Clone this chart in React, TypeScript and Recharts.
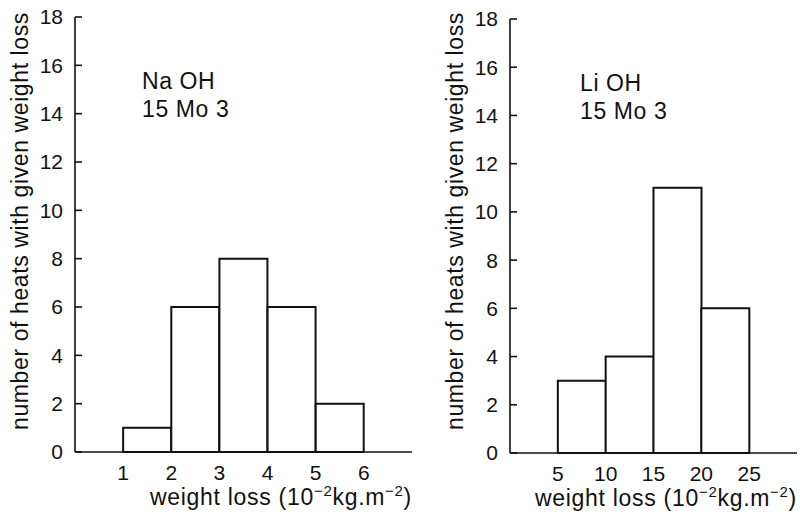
import { ComposedChart, Bar, XAxis, YAxis, Label } from 'recharts'

// left edge of every bin, count of heats in that bin
const naBinStart = [0, 1, 2, 3, 4, 5, 6]
const naCounts = [0, 1, 6, 8, 6, 2, 0]
const naTicks = [1, 2, 3, 4, 5, 6]

const liBinStart = [0, 5, 10, 15, 20, 25]
const liCounts = [0, 3, 4, 11, 6, 0]
const liTicks = [5, 10, 15, 20, 25]

const yTicks = [0, 2, 4, 6, 8, 10, 12, 14, 16, 18]
const yLabel = 'number of heats with given weight loss'

const FONT = "'Liberation Sans', Arial, Helvetica, sans-serif"
const INK = '#111'

interface PanelProps {
  left: number
  width: number
  binStart: number[]
  counts: number[]
  ticks: number[]
  title: string
  margin: { top: number; right: number; bottom: number; left: number }
  yAxisWidth: number
  yLabelX: number
  xLabelDx: number
  titleDx: number
}

function Panel(p: PanelProps) {
  const data = p.binStart.map((s, i) => ({ start: s, count: p.counts[i] }))
  const plotLeft = p.margin.left + p.yAxisWidth
  const plotTop = p.margin.top

  // category ticks sit mid-band, the histogram labels belong on the bin edges
  const EdgeTick = ({ x, y, payload }: any) => {
    if (!p.ticks.includes(payload.value)) return null
    return (
      <text x={x - (payload.offset ?? 0)} y={y + 20} textAnchor="middle" fill={INK} fontSize={21} fontFamily={FONT}>
        {payload.value}
      </text>
    )
  }

  return (
    <div style={{ position: 'absolute', left: p.left, top: 0 }}>
      <ComposedChart width={p.width} height={519} data={data} margin={p.margin} barCategoryGap={0} style={{ fontFamily: FONT }}>
        <XAxis
          dataKey="start"
          tick={<EdgeTick />}
          tickLine={false}
          interval={0}
          axisLine={{ stroke: INK, strokeWidth: 1.6 }}
          height={30}
        >
          <Label
            content={({ viewBox }: any) => (
              <text x={viewBox.x + p.xLabelDx} y={viewBox.y + 53} fill={INK} fontSize={23} letterSpacing={0.7} fontFamily={FONT}>
                weight loss (10<tspan dy={-9} fontSize={15}>−2</tspan>
                <tspan dy={9}>kg.m</tspan>
                <tspan dy={-9} fontSize={15}>−2</tspan>
                <tspan dy={9}>)</tspan>
              </text>
            )}
          />
        </XAxis>
        <XAxis xAxisId="top" orientation="top" dataKey="start" height={0} tick={false} tickLine={false} axisLine={{ stroke: INK, strokeWidth: 1.6 }} />
        <YAxis
          domain={[0, 18]}
          ticks={yTicks}
          width={p.yAxisWidth}
          tickSize={-7}
          tickMargin={19}
          tickLine={{ stroke: INK, strokeWidth: 1.6 }}
          axisLine={{ stroke: INK, strokeWidth: 1.6 }}
          tick={{ fill: INK, fontSize: 21 }}
        >
          <Label
            content={() => (
              <g fill={INK} fontFamily={FONT}>
                <text
                  x={p.yLabelX}
                  y={221}
                  transform={`rotate(-90, ${p.yLabelX}, 221)`}
                  textAnchor="middle"
                  dominantBaseline="central"
                  fontSize={23}
                  letterSpacing={0.6}
                >
                  {yLabel}
                </text>
                {[p.title, '15 Mo 3'].map((t, i) => (
                  <text key={t} x={plotLeft + p.titleDx} y={plotTop + 72 + i * 28} fontSize={23} letterSpacing={0.6}>
                    {t}
                  </text>
                ))}
              </g>
            )}
          />
        </YAxis>
        <YAxis yAxisId="frame" orientation="right" domain={[0, 18]} width={0} tick={false} tickLine={false} axisLine={{ stroke: INK, strokeWidth: 1.6 }} />
        <Bar dataKey="count" fill="#fff" stroke={INK} strokeWidth={2} isAnimationActive={false} />
      </ComposedChart>
    </div>
  )
}

export default function App() {
  return (
    <div style={{ position: 'absolute', left: 0, top: 0, width: 800, height: 519, background: '#fff' }}>
      <Panel
        left={0}
        width={420}
        binStart={naBinStart}
        counts={naCounts}
        ticks={naTicks}
        title="Na OH"
        margin={{ top: 17, right: 8, bottom: 37, left: 0 }}
        yAxisWidth={75}
        yLabelX={20}
        xLabelDx={75}
        titleDx={67}
      />
      <Panel
        left={420}
        width={380}
        binStart={liBinStart}
        counts={liCounts}
        ticks={liTicks}
        title="Li OH"
        margin={{ top: 19, right: 3, bottom: 36, left: 0 }}
        yAxisWidth={90}
        yLabelX={35}
        xLabelDx={25}
        titleDx={70}
      />
    </div>
  )
}
